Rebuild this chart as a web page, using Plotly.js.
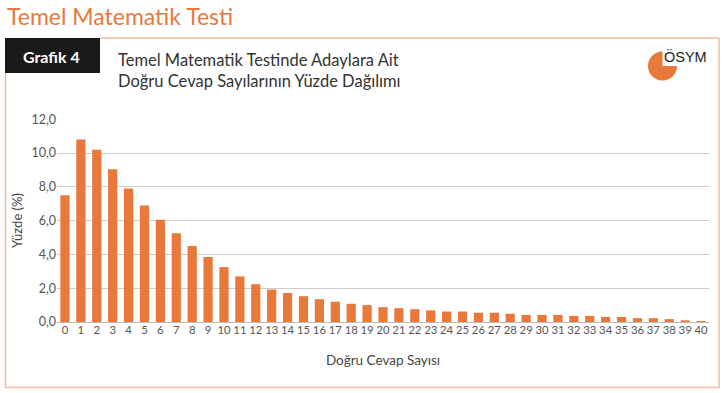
<!DOCTYPE html>
<html><head><meta charset="utf-8">
<script src="https://cdn.plot.ly/plotly-3.0.1.min.js"></script>
<style>html,body{margin:0;padding:0;background:#fff;}#chart{width:725px;height:393px;}</style>
</head><body><div id="chart"></div>
<script>
var categories = ["0","1","2","3","4","5","6","7","8","9","10","11","12","13","14","15","16","17","18","19","20","21","22","23","24","25","26","27","28","29","30","31","32","33","34","35","36","37","38","39","40"];
var percentages = [7.5,10.8,10.2,9.05,7.9,6.9,6.05,5.25,4.5,3.85,3.25,2.7,2.24,1.92,1.72,1.53,1.35,1.2,1.08,1.0,0.88,0.82,0.76,0.69,0.62,0.62,0.55,0.55,0.49,0.42,0.42,0.42,0.36,0.36,0.3,0.3,0.23,0.23,0.17,0.1,0.06];
var yTicks = [0,2,4,6,8,10,12];

var W=725,H=393, L=57, R=709, T=119, B=322;
function px(x){return (x-L)/(R-L);}
function py(y){return (B-y)/(B-T);}
var orange='#E8793A', border='#F2BFA0';

// pie logo polygon: three quadrants, top-right one missing (pixel coords relative to anchor, y up)
var pts=[], r=14.5;
for(var a=90; a<=360; a+=6){var t=a*Math.PI/180; pts.push([r*Math.cos(t), r*Math.sin(t)]);}
var path='M0,0 ';
pts.forEach(function(p){path+='L'+p[0].toFixed(2)+','+p[1].toFixed(2)+' ';});
path+='Z';

var shapes=[
 {type:'path', xref:'paper', yref:'paper', line:{color:border,width:1.5},
  path:'M'+px(100)+','+py(38)+' L'+px(719)+','+py(38)+' L'+px(719)+','+py(387.5)+' L'+px(5.5)+','+py(387.5)+' L'+px(5.5)+','+py(73)},
 {type:'rect', xref:'paper', yref:'paper', x0:px(5), x1:px(100), y0:py(38), y1:py(73), fillcolor:'#1a1a1a', line:{width:0}},
 {type:'path', xref:'paper', yref:'paper', xsizemode:'pixel', ysizemode:'pixel', xanchor:px(662.5), yanchor:py(66), path:path, fillcolor:orange, line:{width:0}}
];

var annotations=[
 {text:'Temel Matematik Testi', xref:'paper', yref:'paper', x:px(5), y:py(16), xanchor:'left', yanchor:'middle', showarrow:false, font:{family:'Lato', size:23, color:orange}},
 {text:'<b>Grafik 4</b>', xref:'paper', yref:'paper', x:px(51), y:py(56), xanchor:'center', yanchor:'middle', showarrow:false, font:{family:'Lato', size:16, color:'#ffffff'}},
 {text:'Temel Matematik Testinde Adaylara Ait<br>Doğru Cevap Sayılarının Yüzde Dağılımı', xref:'paper', yref:'paper', x:px(116), y:py(70), xanchor:'left', yanchor:'middle', align:'left', showarrow:false, font:{family:'Lato', size:16.5, color:'#333333'}},
 {text:'ÖSYM', xref:'paper', yref:'paper', x:px(662), y:py(57), xanchor:'left', yanchor:'middle', showarrow:false, font:{family:'Liberation Sans', size:14.5, color:'#222222'}}
];

var trace={type:'bar', x:categories, y:percentages, marker:{color:orange}, hoverinfo:'x+y'};

var layout={
 width:W, height:H, margin:{l:L, r:W-R, t:T, b:H-B},
 paper_bgcolor:'#ffffff', plot_bgcolor:'#ffffff',
 separators:',.',
 bargap:0.42, showlegend:false,
 font:{family:'Lato', color:'#555555', size:12},
 xaxis:{type:'category', tickangle:0, showgrid:false, showline:false, ticks:'', tickfont:{size:11.3,color:'#555'},
   title:{text:'Doğru Cevap Sayısı', font:{size:13.5,color:'#444'}, standoff:20}, automargin:false},
 yaxis:{range:[0,12.02], tickvals:yTicks, tickformat:'.1f', showgrid:true, gridcolor:'#cccccc', gridwidth:1, zeroline:true, zerolinecolor:'#bbbbbb', zerolinewidth:1,
   ticks:'', ticklen:0, tickfont:{size:12.5,color:'#555'}, title:{text:'Yüzde (%)', font:{size:13,color:'#444'}, standoff:5}, automargin:false},
 shapes:shapes, annotations:annotations
};
Plotly.newPlot('chart',[trace],layout,{displayModeBar:false, staticPlot:true});
</script></body></html>
